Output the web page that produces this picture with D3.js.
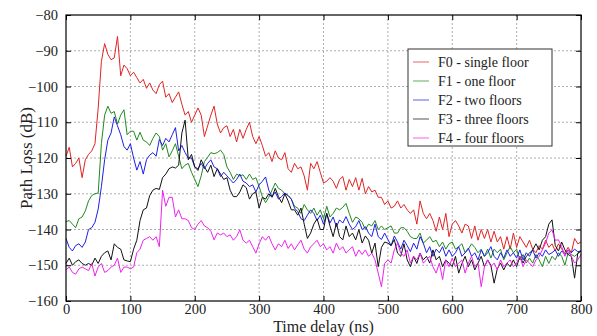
<!DOCTYPE html>
<html>
<head>
<meta charset="utf-8">
<script src="https://cdn.jsdelivr.net/npm/d3@7"></script>
<style>
  body { margin: 0; background: #fff; }
  svg, svg text { font-family: "Liberation Serif", "Times New Roman", serif; }
</style>
</head>
<body>
<svg id="chart" width="597" height="336"></svg>
<script>
const margin = ({top: 15, right: 16, bottom: 35, left: 66})
const width = 597
const height = 336

// sample times (ns), one value every 5 ns
const times = d3.range(0, 805, 5)

const xTicks = [0, 100, 200, 300, 400, 500, 600, 700, 800]
const yTicks = [-160, -150, -140, -130, -120, -110, -100, -90, -80]

const names = ["F0 - single floor", "F1 - one floor", "F2 - two floors", "F3 - three floors", "F4 - four floors"]
const colors = ["#e02424", "#1f8a1f", "#1f1fe6", "#111111", "#ee22ee"]

const f0 = [-119.5,-117,-122.5,-121.5,-120,-125.5,-120.5,-119,-118,-116,-106,-93,-88,-91,-92.5,-92,-86,-97,-94,-95,
-97,-96,-97.5,-99,-98,-100.5,-99,-101,-102,-99.5,-98.5,-103,-102,-104.5,-103,-101.5,-105,-108,-107,-110,
-108,-106,-108,-114,-111,-108,-105.5,-110.5,-113,-111.5,-111,-114,-112,-115.5,-112,-114.5,-112,-110,-114,-116,
-114,-116.5,-119.5,-118.5,-121,-118,-120,-120.5,-118.5,-123,-124,-121.5,-123,-122.5,-125,-129,-121.5,-123,-121,-124,
-127,-126.5,-125.5,-126.5,-128.5,-126,-125.2,-129,-126,-128,-125.5,-129,-125.7,-130,-128,-129.5,-129,-131,-131,-133,
-132,-134,-133.5,-132,-134,-133,-134.5,-135.5,-134.5,-138.5,-132,-135.5,-137,-135.5,-137.5,-140.5,-136.5,-140,-135.5,-142,
-138.5,-137.5,-139,-141,-138.5,-139,-142.5,-139,-143,-140,-142.5,-140,-143.5,-140.5,-143.5,-142,-145.5,-142,-145.5,-141,
-145,-142,-143.5,-145,-143,-145.5,-146.5,-144.5,-145.5,-143,-145,-144,-146,-144,-145.5,-146.5,-145,-146.5,-142.5,-144,
-143.5]

const f1 = [-137.8,-137.5,-138.5,-139.5,-137,-136.5,-134.8,-132,-130.5,-130,-129.8,-116,-108,-105.5,-107.5,-107,-110.5,-108,-106.5,-113.5,
-112.5,-112.5,-115,-112.8,-115,-115.5,-116.5,-114.5,-113,-114,-117.8,-116,-119.7,-118,-116,-119.5,-123,-122,-121.5,-124,
-126,-128,-125,-121,-119.8,-118.5,-118.8,-118.5,-117.8,-119,-122.5,-124,-126,-124.5,-125,-124.7,-126,-124.5,-126,-125.5,
-128,-130.8,-132.5,-131,-129,-127,-128.5,-129,-130,-130.5,-131.5,-133.5,-134,-135.5,-133,-134.5,-135.5,-134,-136,-134.5,
-137,-133.5,-136.5,-135.5,-134,-134.5,-133.8,-132.7,-135.5,-138,-136.5,-137,-138,-140,-138.5,-139,-137.5,-140,-139,-140,
-139.5,-139,-141,-141,-139.5,-139.5,-140.5,-142,-142.5,-142.5,-141,-143.8,-143,-142,-143.5,-143,-144.8,-143.5,-145.5,-144,
-143.5,-145.5,-144.8,-144,-146.5,-145.5,-144,-145,-146.5,-145.5,-147.5,-145.5,-148,-145.5,-146.5,-145.5,-148.5,-146.5,-144.8,-146.5,
-145.5,-148.5,-147,-149.4,-148,-149.4,-147,-148.5,-150.4,-147.5,-149.5,-147.5,-148.5,-146.5,-147.5,-150,-146.5,-147,-147.5,-146.8,
-146]

const f2 = [-142.5,-145,-146,-144.5,-144,-145,-143.5,-140,-139.5,-138,-134.3,-128,-120.5,-115,-113,-108.5,-111,-113.5,-116.8,-117.8,
-116,-120,-123.4,-121,-124.5,-120.5,-119.2,-118.5,-119.5,-114.8,-116.5,-114.5,-115.5,-113.5,-111.5,-118,-116.5,-118.5,-120,-120,
-122.5,-123,-121.5,-123,-121.5,-120.5,-122.5,-123,-125.2,-124,-125,-126,-127,-126,-124.5,-126.5,-127,-128,-127.5,-129.5,
-127.5,-126.5,-125.3,-129,-130.8,-129.5,-131.5,-130.8,-129.8,-130.5,-131.5,-134,-135,-137,-137.5,-136,-134.5,-135.5,-137.5,-136,
-138.5,-135.5,-138.2,-136.5,-139.2,-137.3,-138.2,-136.4,-138.5,-140,-139.2,-137.5,-140,-139.2,-141,-142,-138.5,-142,-142.8,-141,
-142.8,-144.5,-141.8,-143.5,-145.5,-143,-144.5,-146.2,-143.8,-145.5,-142,-143.8,-146.5,-144.8,-147.5,-145.5,-146.5,-144.8,-147.5,-145.7,
-147.5,-146.5,-144.8,-147.5,-146.5,-145.2,-147.5,-146.5,-148.5,-145.7,-147.5,-146.5,-144.8,-147.5,-148.5,-146.5,-148,-145.7,-147.5,-146.5,
-148,-145.7,-148.5,-146.5,-147.5,-145.7,-148,-146.5,-147.5,-145.7,-147,-146.5,-145.7,-147.5,-146,-147,-145.7,-146.5,-145.5,-146.2,
-146]

const f3 = [-149.5,-148,-150,-149,-148.5,-149.5,-150,-149.5,-150,-148,-149.5,-147.5,-146.5,-146,-148.5,-144,-145,-145.5,-148.5,-148.8,
-149,-145.5,-143,-137.5,-134.5,-134,-130.5,-129,-128.5,-128.8,-125.5,-124.5,-123,-122.5,-122.8,-122,-113,-109.4,-120.5,-119,
-122.5,-123.5,-120.5,-122.5,-124,-122,-125.2,-123,-124.5,-126,-125.5,-129,-130.8,-130.8,-129.5,-127.5,-128.3,-131.5,-130,-129.5,
-134,-131,-131.5,-130,-131,-128.5,-130.8,-132.5,-130,-132,-134.5,-134.5,-136,-134,-138.5,-142.5,-141,-138.5,-137,-140,
-140,-135.5,-139,-142,-138.2,-142,-142.9,-139,-142,-141,-142.9,-140,-143.8,-141.8,-143,-146.6,-143.8,-150.4,-145,-143.5,
-143.8,-144.5,-142.8,-146.6,-147.5,-144,-148.5,-150.4,-147.5,-149.5,-146.6,-148.5,-147.5,-149.4,-145.7,-148.5,-147.5,-150.4,-148.5,-149.4,
-150.4,-147.5,-152.2,-149.5,-147.5,-150.4,-148.5,-151.3,-149.4,-147.5,-150.4,-148.5,-150,-155,-151,-149.4,-151.3,-149.4,-150.4,-148.5,
-150.4,-147.5,-149.4,-147.5,-146.6,-145.7,-144,-145.7,-143,-142,-138.5,-137.3,-144.5,-146,-143.5,-145.7,-147,-147.5,-153.6,-146.6,
-146]

const f4 = [-151.3,-150.5,-152,-152.5,-151,-150.5,-151,-151.5,-149.5,-153,-150.5,-149.5,-152,-151.5,-150.5,-150,-148,-152,-150.5,-150.5,
-151,-150.5,-146.5,-145.5,-143,-142.5,-142,-143,-142,-144.8,-129,-133.5,-131,-131,-136.5,-134.5,-137,-137,-137.5,-139.5,
-140,-138.5,-137.5,-139,-139.5,-140.5,-142.9,-141,-141.5,-141,-142,-141.5,-143,-142,-140.1,-143,-143.8,-143,-144.8,-146.6,
-144,-142,-143,-141.8,-144,-145.7,-144,-144.8,-143,-145.3,-144,-145.7,-144.3,-143,-145.5,-146.6,-144.8,-144,-143,-144.8,
-144,-145.7,-144.8,-146.6,-143.8,-145.7,-144.8,-146.6,-145.7,-144.8,-147.5,-145.7,-147,-145.7,-147.5,-146.6,-148.5,-152.2,-156,-149.5,
-148.5,-149.4,-145.7,-143.8,-146.6,-147.5,-145.7,-149.4,-147.5,-148.5,-146.6,-149.4,-148.5,-147.5,-150.4,-152.2,-149.4,-154,-148.5,-150.4,
-148,-150.4,-149.4,-148.5,-152.2,-149.4,-147.5,-150.4,-149.4,-156,-150.4,-148.5,-150.4,-149.4,-151.3,-148.5,-150.4,-149.4,-148.5,-150.4,
-149.4,-147.5,-150.4,-148.5,-149.4,-150.4,-148.5,-147.5,-145.7,-143.8,-141,-140.1,-143,-142.9,-144.8,-147.5,-145.7,-147.5,-149.4,-148.5,
-147]

const series = [f0, f1, f2, f3, f4]

const x = d3.scaleLinear()
    .domain([0, 800])
    .range([margin.left, width - margin.right])

const y = d3.scaleLinear()
    .domain([-160, -80])
    .range([height - margin.bottom, margin.top])

const serif = '"Liberation Serif", "Times New Roman", serif'

function chart() {
    const svg = d3.select('#chart').attr('viewBox', [0, 0, width, height])
    const x0 = x.range()[0], x1 = x.range()[1]
    const y0 = y.range()[0], y1 = y.range()[1]

    // dotted grid
    const grid = svg.append("g")
        .attr("stroke", "#9a9a9a")
        .attr("stroke-width", 0.8)
        .attr("stroke-dasharray", "2,2")
    grid.selectAll(".gx")
        .data(xTicks.slice(1, -1))
        .join("line")
        .attr("x1", d => x(d)).attr("x2", d => x(d))
        .attr("y1", y1).attr("y2", y0)
    grid.selectAll(".gy")
        .data(yTicks.slice(1, -1))
        .join("line")
        .attr("y1", d => y(d)).attr("y2", d => y(d))
        .attr("x1", x0).attr("x2", x1)

    // traces
    const line = d3.line()
        .x((d, i) => x(times[i]))
        .y(d => y(d))

    svg.append("g")
        .attr("fill", "none")
        .attr("stroke-width", 1)
        .selectAll("path")
        .data(series)
        .join("path")
        .attr("stroke", (d, i) => colors[i])
        .attr("d", line)

    // axes with inward ticks on all four sides
    svg.append("g")
        .attr("transform", `translate(0,${y0})`)
        .call(d3.axisBottom(x).tickValues(xTicks).tickSize(-5).tickPadding(3))
    svg.append("g")
        .attr("transform", `translate(0,${y1})`)
        .call(d3.axisTop(x).tickValues(xTicks).tickSize(-5).tickFormat(""))
    svg.append("g")
        .attr("transform", `translate(${x0},0)`)
        .call(d3.axisLeft(y).tickValues(yTicks).tickSize(-5).tickPadding(8))
    svg.append("g")
        .attr("transform", `translate(${x1},0)`)
        .call(d3.axisRight(y).tickValues(yTicks).tickSize(-5).tickFormat(""))

    svg.selectAll(".domain").remove()
    svg.selectAll("g").attr("font-family", null)
    svg.selectAll(".tick text")
        .style("font-family", serif)
        .style("font-size", "14.5px")
        .attr("fill", "#222")
    svg.selectAll(".tick line").attr("stroke", "#000")

    svg.append("rect")
        .attr("x", x0).attr("y", y1)
        .attr("width", x1 - x0).attr("height", y0 - y1)
        .attr("fill", "none")
        .attr("stroke", "#000")
        .attr("stroke-width", 1.2)

    // axis titles
    svg.append("text")
        .attr("x", (x0 + x1) / 2)
        .attr("y", 331.5)
        .attr("text-anchor", "middle")
        .style("font-family", serif)
        .style("font-size", "16px")
        .attr("fill", "#222")
        .text("Time delay (ns)")

    svg.append("text")
        .attr("transform", `translate(32,${(y0 + y1) / 2}) rotate(-90)`)
        .attr("text-anchor", "middle")
        .style("font-family", serif)
        .style("font-size", "17px")
        .attr("fill", "#222")
        .text("Path Loss (dB)")

    // legend
    const lg = svg.append("g").attr("transform", "translate(408,49)")
    lg.append("rect")
        .attr("width", 144).attr("height", 97)
        .attr("fill", "#fff")
        .attr("stroke", "#333")
        .attr("stroke-width", 1)
    const item = lg.selectAll(".item")
        .data(names)
        .join("g")
        .attr("transform", (d, i) => `translate(0,${13 + i * 19})`)
    item.append("line")
        .attr("x1", 5).attr("x2", 21)
        .attr("stroke", (d, i) => colors[i])
        .attr("stroke-opacity", 0.6)
        .attr("stroke-width", 1.2)
    item.append("text")
        .attr("x", 30)
        .attr("dy", "0.35em")
        .style("font-family", serif)
        .style("font-size", "14px")
        .attr("fill", "#222")
        .text(d => d)

    return svg.node()
}

chart()
</script>
</body>
</html>
